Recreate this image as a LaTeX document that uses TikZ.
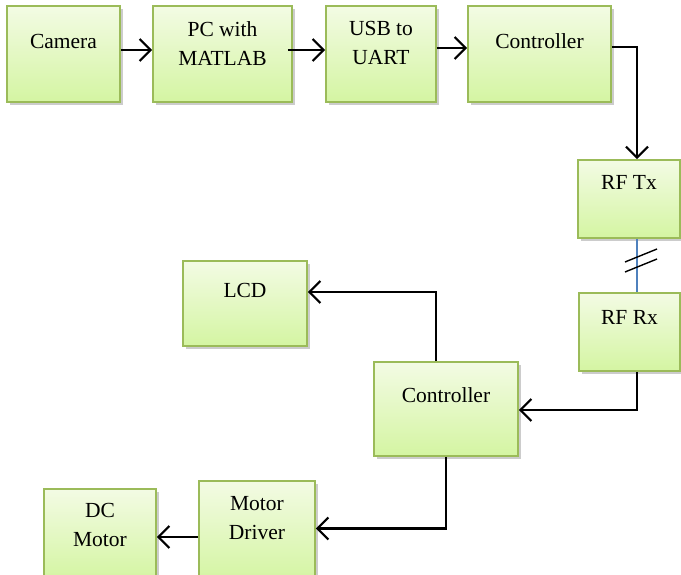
\documentclass[tikz,border=0pt]{standalone}
\usepackage{fontspec}
\setmainfont{Liberation Serif}
\usepackage{tikz}
\usetikzlibrary{arrows.meta,shadows}
\definecolor{boxedge}{RGB}{155,187,89}
\definecolor{boxtop}{RGB}{243,251,228}
\definecolor{boxbot}{RGB}{212,245,162}
\definecolor{rflink}{RGB}{79,129,189}

\tikzset{
  box/.style={draw=boxedge,line width=1.6pt,top color=boxtop,bottom color=boxbot,
    drop shadow={shadow xshift=2.5pt,shadow yshift=-2.5pt,opacity=0.4},inner sep=0pt},
  lbl/.style={font=\fontsize{21.5}{29}\selectfont,align=center,anchor=center},
  arr/.style={line width=2.2pt,-{Straight Barb[length=11pt,width=22pt]}}
}

\begin{document}
\begin{tikzpicture}[x=1pt,y=-1pt]
        \useasboundingbox (0,0) rectangle (681,574);
        % top row
        \node[box,minimum width=113pt,minimum height=96pt,label={[lbl,yshift=-36pt]north:Camera}] (cam) at (63.5,54) {};
        \node[box,minimum width=139pt,minimum height=96pt,label={[lbl,yshift=-38.5pt]north:PC with\\MATLAB}] (pc) at (222.5,54) {};
        \node[box,minimum width=110pt,minimum height=96pt,label={[lbl,yshift=-38pt]north:USB to\\UART}] (usb) at (381,54) {};
        \node[box,minimum width=143pt,minimum height=96pt,label={[lbl,yshift=-36pt]north:Controller}] (ctrA) at (539.5,54) {};
        % rf link
        \node[box,minimum width=102pt,minimum height=78pt,label={[lbl,yshift=-23pt]north:RF Tx}] (rftx) at (629,199) {};
        \node[box,minimum width=101pt,minimum height=78pt,label={[lbl,yshift=-25pt]north:RF Rx}] (rfrx) at (629.5,332) {};
        % bottom part
        \node[box,minimum width=124pt,minimum height=85pt,label={[lbl,yshift=-30pt]north:LCD}] (lcd) at (245,303.5) {};
        \node[box,minimum width=144pt,minimum height=94pt,label={[lbl,yshift=-34pt]north:Controller}] (ctrB) at (446,409) {};
        \node[box,minimum width=116pt,minimum height=100pt,label={[lbl,yshift=-38pt]north:Motor\\Driver}] (drv) at (257,531) {};
        \node[box,minimum width=112pt,minimum height=91pt,label={[lbl,yshift=-36.5pt]north:DC\\Motor}] (dcm) at (100,534.5) {};

        \draw[arr] ([yshift=4pt]cam.east)--([yshift=4pt]pc.west);
        \draw[arr] ([xshift=-5pt,yshift=4pt]pc.east)--([yshift=4pt]usb.west);
        \draw[arr] ([yshift=6pt]usb.east)--([yshift=6pt]ctrA.west);
        \draw[arr] ([yshift=7pt]ctrA.east) -| ([xshift=8pt]rftx.north);
        \draw[rflink,line width=1.4pt] ([xshift=8pt]rftx.south)--([xshift=7.5pt]rfrx.north);
        \draw[line width=1.4pt] (625,262)--(657,249);
        \draw[line width=1.4pt] (625,272)--(657,259);
        \draw[arr] ([xshift=7.5pt]rfrx.south) |- ([yshift=-1pt]ctrB.east);
        \draw[arr] ([xshift=-10pt]ctrB.north) |- ([yshift=11.5pt]lcd.east);
        \draw[arr] (ctrB.south) |- ([yshift=2.5pt]drv.east);
        \coordinate (dm) at ([yshift=-6pt]drv.west);
        \draw[arr] (dm)--(dm -| dcm.east);
    \end{tikzpicture}
\end{document}
